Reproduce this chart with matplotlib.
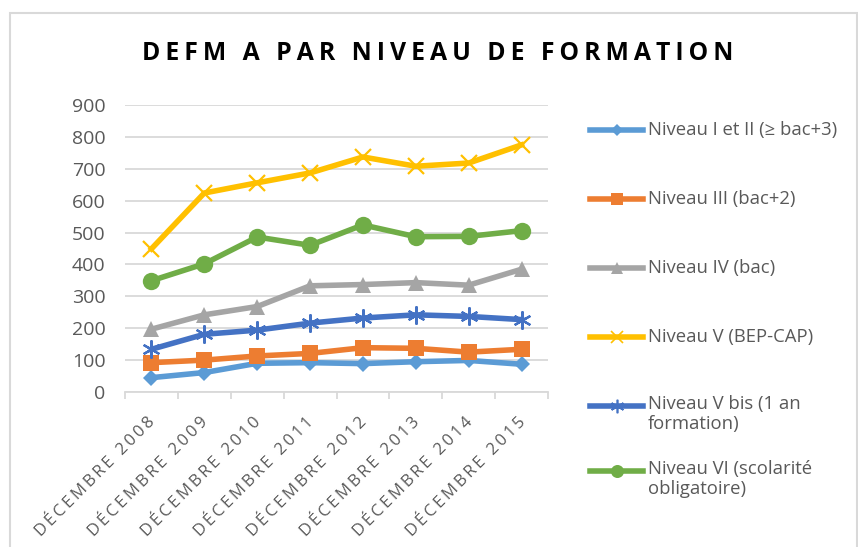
import matplotlib
matplotlib.use("Agg")
import matplotlib.pyplot as plt
from matplotlib.lines import Line2D
from matplotlib.patches import Rectangle
import matplotlib.transforms as mtransforms

categories = ["DÉCEMBRE 2008", "DÉCEMBRE 2009", "DÉCEMBRE 2010", "DÉCEMBRE 2011",
              "DÉCEMBRE 2012", "DÉCEMBRE 2013", "DÉCEMBRE 2014", "DÉCEMBRE 2015"]
niv_1_2 = [45, 61, 90, 92, 89, 95, 99, 87]
niv_3 = [92, 100, 113, 121, 139, 137, 125, 134]
niv_4 = [197, 242, 268, 333, 337, 343, 335, 385]
niv_5 = [449, 624, 656, 687, 737, 708, 718, 775]
niv_5bis = [134, 181, 194, 216, 232, 242, 237, 227]
niv_6 = [349, 402, 486, 460, 524, 487, 488, 506]
labels = ["Niveau I et II (≥ bac+3)", "Niveau III (bac+2)", "Niveau IV (bac)",
          "Niveau V (BEP-CAP)", "Niveau V bis (1 an\nformation)",
          "Niveau VI (scolarité\nobligatoire)"]
yticks = [0, 100, 200, 300, 400, 500, 600, 700, 800, 900]
title = "DEFM A PAR NIVEAU DE FORMATION"

W, H = 858, 547
fig = plt.figure(figsize=(W / 100, H / 100), dpi=100)
plt.rcParams['font.family'] = ['Open Sans', 'DejaVu Sans']

def spaced(s, sp="\u2009"):
    return "".join(c + sp if c != " " else " " + sp for c in s).rstrip(sp)

# chart border
fig.patches.append(Rectangle((10 / W, -0.05), (857 - 10) / W, 1.05 - 13 / H,
                             transform=fig.transFigure, fill=False,
                             edgecolor="#d9d9d9", linewidth=1.5))

ax = fig.add_axes([125 / W, 1 - 392 / H, (548 - 125) / W, (392 - 105) / H])
x = list(range(len(categories)))

styles = [
    (niv_1_2, "#5b9bd5", "D", 8),
    (niv_3, "#ed7d31", "s", 11),
    (niv_4, "#a5a5a5", "^", 11),
    (niv_5, "#ffc000", "x", 11),
    (niv_5bis, "#4472c4", (6, 2, 0), 13),
    (niv_6, "#70ad47", "o", 12.5),
]
for vals, col, mk, ms in styles:
    thin = (mk == "x" or isinstance(mk, tuple))
    ax.plot(x, vals, color=col, lw=4, marker=mk, ms=ms, mew=1.6 if thin else 0, zorder=3)

ax.set_xlim(-0.5, len(categories) - 0.5)
ax.set_ylim(0, 900)
ax.set_yticks(yticks)
ax.yaxis.grid(True, color="#d9d9d9", lw=1.3)
ax.set_axisbelow(True)
for s in ["top", "right", "left"]:
    ax.spines[s].set_visible(False)
ax.spines["bottom"].set_color("#d9d9d9")
ax.spines["bottom"].set_linewidth(1.3)
ax.tick_params(axis="y", length=0, labelsize=14, labelcolor="#595959", pad=14)
ax.set_xticks([i - 0.5 for i in range(len(categories) + 1)])
ax.set_xticklabels([])
ax.tick_params(axis="x", length=5, color="#d9d9d9", width=1.3)
ax.set_xticks(x, minor=True)
ax.set_xticklabels([spaced(c) for c in categories], minor=True, rotation=45,
                   ha="right", rotation_mode="anchor", fontsize=12, color="#595959")
ax.tick_params(axis="x", which="minor", length=0, pad=16)
for lbl in ax.get_xticklabels(minor=True):
    lbl.set_transform(lbl.get_transform() + mtransforms.ScaledTranslation(-4 / 100, 0, fig.dpi_scale_trans))

fig.text(438 / W, 1 - 54 / H, spaced(title),
         ha="center", va="center", fontsize=17.8, fontweight="bold", color="black")

# manual legend (figure pixel coords)
leg_y = [130, 199, 268, 337, 406, 471]
for (vals, col, mk, ms), lab, yy in zip(styles, labels, leg_y):
    thin = (mk == "x" or isinstance(mk, tuple))
    yf = 1 - yy / H
    fig.add_artist(Line2D([590 / W, 643 / W], [yf, yf], transform=fig.transFigure,
                          color=col, lw=4))
    fig.add_artist(Line2D([617 / W], [yf], transform=fig.transFigure, color=col,
                          marker=mk, ms=ms * 0.75, mew=1.2 if thin else 0, lw=0))
    fig.text(648 / W, yf, lab, ha="left", va="top" if "\n" in lab else "center",
             fontsize=13.3, color="#595959", linespacing=1.15,
             transform=mtransforms.offset_copy(fig.transFigure, fig=fig, x=0,
                                               y=(11 if "\n" in lab else 0), units="dots"))

fig.savefig("out.png", dpi=100)
